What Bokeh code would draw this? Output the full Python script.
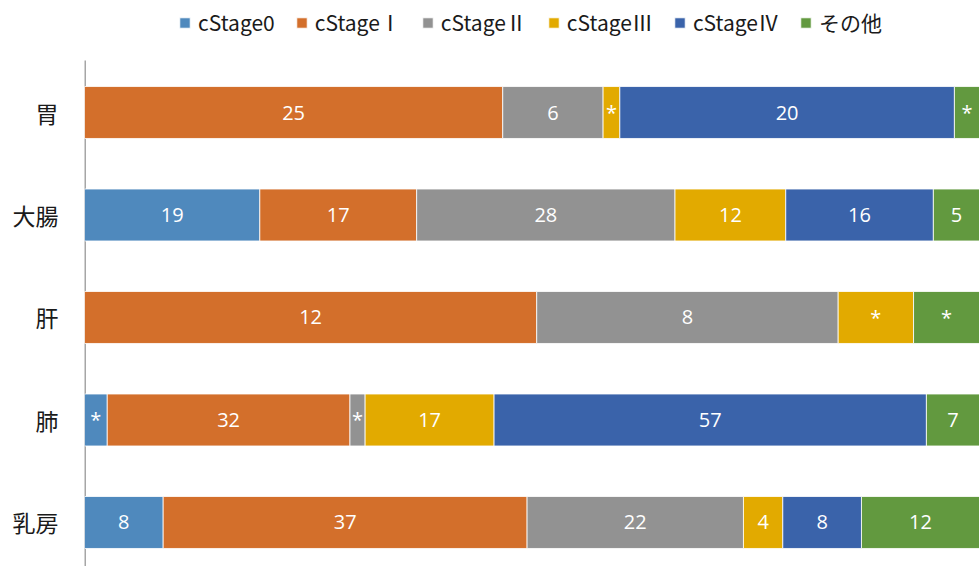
from bokeh.plotting import figure
from bokeh.models import Range1d, FixedTicker, Legend, LegendItem, ColumnDataSource
from bokeh.embed import file_html
from bokeh.resources import INLINE
from bokeh.core.properties import value

categories = ["胃", "大腸", "肝", "肺", "乳房"]
stages = ["cStage0", "cStageⅠ", "cStageⅡ", "cStageⅢ", "cStageⅣ", "その他"]
colors = ["#4F89BD", "#D36F2B", "#929292", "#E2AA00", "#3A63AA", "#62993F"]

# counts per stage (categories order); "*" cells are estimated small values
s0 = [0, 19, 0, 3, 8]
s1 = [25, 17, 12, 32, 37]
s2 = [6, 28, 8, 2, 22]
s3 = [1, 12, 2, 17, 4]
s4 = [20, 16, 0, 57, 8]
s5 = [1.5, 5, 1.75, 7, 12]
series = [s0, s1, s2, s3, s4, s5]

l0 = ["", "19", "", "*", "8"]
l1 = ["25", "17", "12", "32", "37"]
l2 = ["6", "28", "8", "*", "22"]
l3 = ["*", "12", "*", "17", "4"]
l4 = ["20", "16", "", "57", "8"]
l5 = ["*", "5", "*", "7", "12"]
labels = [l0, l1, l2, l3, l4, l5]

n = len(categories)
ypos = [n - 1 - i for i in range(n)]
totals = [sum(s[i] for s in series) for i in range(n)]

Y0, Y1 = -0.4293, 5.0927
p = figure(width=979, height=566, output_backend="svg", toolbar_location=None,
           x_range=Range1d(0, 1), y_range=Range1d(Y0, Y1),
           min_border_left=84, min_border_right=0, min_border_bottom=0, min_border_top=0)
p.outline_line_color = None
p.xgrid.visible = False
p.ygrid.visible = False
p.xaxis.visible = False

p.yaxis.ticker = FixedTicker(ticks=ypos)
p.yaxis.major_label_overrides = {y: c for y, c in zip(ypos, categories)}
p.yaxis.major_tick_line_color = None
p.yaxis.minor_tick_line_color = None
p.yaxis.axis_line_color = None
p.yaxis.major_label_text_font = "Noto Sans CJK JP"
p.yaxis.major_label_text_font_size = "23px"
p.yaxis.major_label_text_color = "#1a1a1a"
p.yaxis.major_label_standoff = 20

# axis line (starts below the legend area)
p.segment(x0=[0], y0=[Y0], x1=[0], y1=[4.5073], line_color="#A6A6A6", line_width=3)

cum = [0.0] * n
items = []
for k, s in enumerate(series):
    left = [cum[i] / totals[i] for i in range(n)]
    right = [(cum[i] + s[i]) / totals[i] for i in range(n)]
    cum = [cum[i] + s[i] for i in range(n)]
    src = ColumnDataSource(dict(y=ypos, left=left, right=right,
                                mid=[(a + b) / 2 for a, b in zip(left, right)],
                                lab=labels[k]))
    r = p.hbar(y="y", left="left", right="right", height=0.507, source=src,
               fill_color=colors[k], line_color="white", line_width=0.8)
    items.append(LegendItem(label=stages[k], renderers=[r]))
    p.text(x="mid", y="y", text="lab", source=src, text_color="white",
           text_font=value("Open Sans"), text_font_size="20px",
           text_align="center", text_baseline="middle")

legend = Legend(items=items, orientation="horizontal", location=(94, 529),
                label_text_font="Noto Sans CJK JP", label_text_font_size="21px",
                label_text_color="#1a1a1a", glyph_width=13, glyph_height=13,
                label_standoff=7, spacing=20, padding=0, margin=0,
                border_line_color=None, background_fill_alpha=0)
p.add_layout(legend, "center")

open("out.html", "w").write(file_html(p, INLINE))
